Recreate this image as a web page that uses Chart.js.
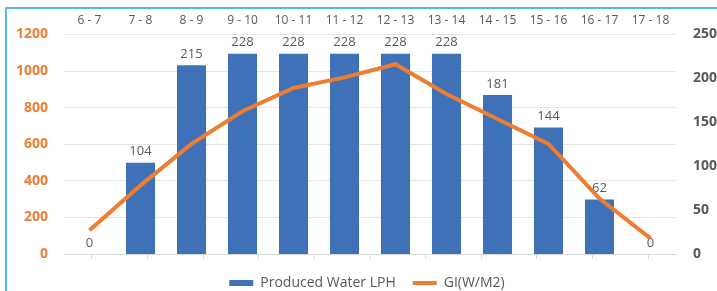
<!DOCTYPE html>
<html>
<head>
<meta charset="utf-8">
<script src="https://cdn.jsdelivr.net/npm/chart.js@4/dist/chart.umd.min.js"></script>
<style>
  html, body { margin: 0; padding: 0; background: #fff; overflow: hidden; width: 717px; height: 291px; }
  #wrap { position: absolute; left: 0; top: 0; width: 743px; height: 300px; }
  #frame { position: absolute; left: 5px; top: 7px; width: 740px; height: 300px;
           border-left: 2px solid #5BB8DC; border-top: 2px solid #5BB8DC; }
</style>
</head>
<body>
<div id="frame"></div>
<div id="wrap"><canvas id="waterChart" width="743" height="300"></canvas></div>
<script>
// jam pengamatan
const hours = ['6 - 7', '7 - 8', '8 - 9', '9 - 10', '10 - 11', '11 - 12',
               '12 - 13', '13 - 14', '14 - 15', '15 - 16', '16 - 17', '17 - 18'];
// air yang dihasilkan (LPH) - sumbu kanan
const producedWater = [0, 104, 215, 228, 228, 228, 228, 228, 181, 144, 62, 0];
// radiasi global (W/M2) - sumbu kiri
const globalIrradiance = [130, 375, 602, 780, 907, 965, 1037, 874, 738, 602, 303, 85];

const leftTicks = [0, 200, 400, 600, 800, 1000, 1200];
const rightTicks = [0, 50, 100, 150, 200, 250];

const FONT = '"Open Sans", sans-serif';

// label angka di atas batang
const barLabels = {
    id: 'barLabels',
    afterDatasetDraw(chart, args) {
        if (args.index !== 0) return;
        const ctx = chart.ctx;
        const meta = chart.getDatasetMeta(0);
        ctx.save();
        ctx.font = '13px ' + FONT;
        ctx.fillStyle = '#595959';
        ctx.textAlign = 'center';
        ctx.textBaseline = 'middle';
        meta.data.forEach((bar, i) => {
            ctx.fillText(String(producedWater[i]), bar.x, bar.y - 11);
        });
        ctx.restore();
    }
};

new Chart(document.getElementById('waterChart').getContext('2d'), {
    data: {
        labels: hours,
        datasets: [{
            type: 'bar',
            label: 'Produced Water LPH',
            data: producedWater,
            yAxisID: 'y1',
            xAxisID: 'x',
            backgroundColor: '#3F71B8',
            barPercentage: 0.57,
            categoryPercentage: 1,
            order: 1
        }, {
            type: 'line',
            label: 'GI(W/M2)',
            data: globalIrradiance,
            yAxisID: 'y',
            xAxisID: 'x',
            borderColor: '#ED7D31',
            backgroundColor: '#ED7D31',
            borderWidth: 4,
            pointRadius: 0,
            tension: 0,
            order: 0
        }]
    },
    options: {
        responsive: false,
        animation: false,
        layout: { padding: { left: 0, top: 6, right: 9, bottom: 0 } },
        plugins: {
            tooltip: { enabled: false },
            legend: {
                position: 'bottom',
                labels: {
                    font: { family: FONT, size: 14 },
                    color: '#595959',
                    usePointStyle: true,
                    pointStyleWidth: 24,
                    boxHeight: 6,
                    padding: 17,
                    sort: (a, b) => a.datasetIndex - b.datasetIndex,
                    generateLabels(chart) {
                        const items = Chart.defaults.plugins.legend.labels.generateLabels(chart);
                        items.forEach(it => {
                            if (it.datasetIndex === 0) {
                                it.pointStyle = 'rect';
                                it.lineWidth = 0;
                            } else {
                                it.pointStyle = 'line';
                                it.lineWidth = 4;
                                it.strokeStyle = '#ED7D31';
                            }
                        });
                        return items;
                    }
                }
            }
        },
        scales: {
            x: {
                position: 'top',
                grid: { display: false, drawTicks: false },
                border: { display: false },
                ticks: { color: '#595959', font: { family: FONT, size: 12 }, padding: 7 }
            },
            xb: {
                type: 'category',
                position: 'bottom',
                labels: hours,
                grid: { offset: true, drawOnChartArea: false, tickLength: 5, color: '#D9D9D9' },
                border: { color: '#D9D9D9' },
                ticks: { display: false }
            },
            y: {
                position: 'left',
                min: 0,
                max: 1200,
                afterBuildTicks(axis) { axis.ticks = leftTicks.map(v => ({ value: v })); },
                grid: { color: '#E6E6E6', drawTicks: false },
                border: { display: false },
                ticks: {
                    color: '#ED7D31', font: { family: FONT, size: 14, weight: 'bold' }, padding: 16,
                    callback: v => String(v)
                }
            },
            y1: {
                position: 'right',
                min: 0,
                max: 250,
                afterBuildTicks(axis) { axis.ticks = rightTicks.map(v => ({ value: v })); },
                grid: { display: false, drawTicks: false },
                border: { display: false },
                ticks: {
                    color: '#595959', font: { family: FONT, size: 14, weight: 'bold' }, padding: 17,
                    callback: v => String(v)
                }
            }
        }
    },
    plugins: [barLabels]
});
</script>
</body>
</html>
